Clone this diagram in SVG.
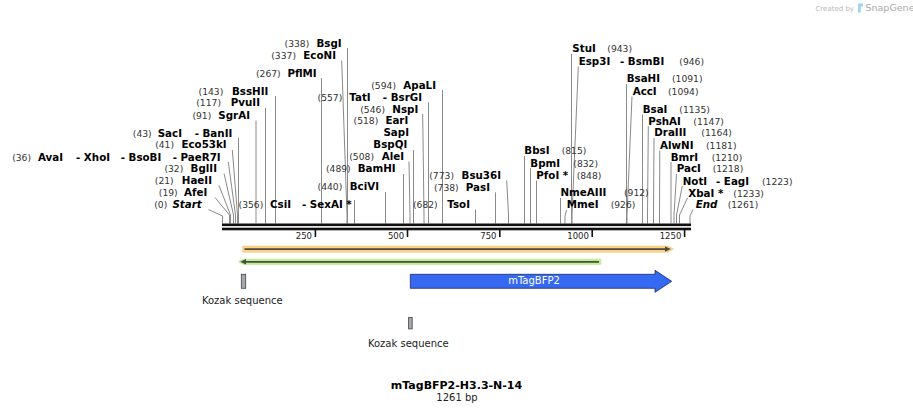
<svg xmlns="http://www.w3.org/2000/svg" width="913" height="413" viewBox="0 0 913 413">
<style>
.n{font-family:"DejaVu Sans",Verdana,sans-serif;font-size:10.3px;font-weight:bold;fill:#000}
.p{font-family:"DejaVu Sans",Verdana,sans-serif;font-size:9.2px;fill:#333}
.i{font-style:italic}
.e{text-anchor:end}
.m{text-anchor:middle}
.l{stroke:#8a8a8a;stroke-width:1;fill:none}
.t{stroke:#111;stroke-width:1.6}
.tk{font-family:"DejaVu Sans",Verdana,sans-serif;font-size:8.5px;fill:#222;text-anchor:end}
.f{font-family:"DejaVu Sans",Verdana,sans-serif;font-size:10px;fill:#222;text-anchor:middle}
</style>
<rect width="913" height="413" fill="#fff"/>

<g id="connectors">
<polyline class="l" points="208.5,209.5 222.5,216 222.5,223.5"/>
<polyline class="l" points="215,197.5 229.5,215 229.5,223.5"/>
<polyline class="l" points="219,185.5 230.5,215 230.5,223.5"/>
<polyline class="l" points="224,173.5 233.5,215 233.5,223.5"/>
<polyline class="l" points="228.3,162 235.5,215 235.5,223.5"/>
<polyline class="l" points="232.3,150 237.5,215 237.5,223.5"/>
<line class="l" x1="238.5" y1="138" x2="238.5" y2="223.5"/>
<line class="l" x1="256" y1="120.5" x2="256" y2="223.5"/>
<line class="l" x1="265.5" y1="108" x2="265.5" y2="223.5"/>
<line class="l" x1="275.5" y1="96" x2="275.5" y2="223.5"/>
<line class="l" x1="321.5" y1="78" x2="321.5" y2="223.5"/>
<polyline class="l" points="341.7,60.5 347,215 347,223.5"/>
<line class="l" x1="347.5" y1="48" x2="347.5" y2="223.5"/>
<line class="l" x1="354.5" y1="200" x2="354.5" y2="223.5"/>
<line class="l" x1="385.5" y1="192" x2="385.5" y2="223.5"/>
<line class="l" x1="403.5" y1="174" x2="403.5" y2="223.5"/>
<polyline class="l" points="409,161.7 410,215 410,223.5"/>
<line class="l" x1="413.5" y1="150" x2="413.5" y2="223.5"/>
<polyline class="l" points="422.7,114 424,215 424,223.5"/>
<line class="l" x1="428.5" y1="102.3" x2="428.5" y2="223.5"/>
<line class="l" x1="442.5" y1="90" x2="442.5" y2="223.5"/>
<line class="l" x1="475.5" y1="209.5" x2="475.5" y2="223.5"/>
<line class="l" x1="495.5" y1="192.3" x2="495.5" y2="223.5"/>
<polyline class="l" points="506.7,180.5 508.5,215 508.5,223.5"/>
<line class="l" x1="524.5" y1="156" x2="524.5" y2="223.5"/>
<line class="l" x1="530.5" y1="168.3" x2="530.5" y2="223.5"/>
<line class="l" x1="536.5" y1="180.5" x2="536.5" y2="223.5"/>
<line class="l" x1="560.5" y1="198" x2="560.5" y2="223.5"/>
<polyline class="l" points="566.5,210 565,216 565,223.5"/>
<line class="l" x1="571.5" y1="54" x2="571.5" y2="223.5"/>
<polyline class="l" points="578.3,66.5 572,215 572,223.5"/>
<line class="l" x1="626.5" y1="84" x2="626.5" y2="223.5"/>
<polyline class="l" points="632,96.5 627,215 627,223.5"/>
<line class="l" x1="642.5" y1="114.5" x2="642.5" y2="223.5"/>
<polyline class="l" points="648.3,126 647.5,215 647.5,223.5"/>
<polyline class="l" points="654,138 653.5,215 653.5,223.5"/>
<polyline class="l" points="659.8,150.5 659.5,215 659.5,223.5"/>
<line class="l" x1="671" y1="162" x2="671" y2="223.5"/>
<polyline class="l" points="676.5,174 674,215 674,223.5"/>
<polyline class="l" points="682.3,186 676.5,215 676.5,223.5"/>
<polyline class="l" points="687.5,198 679.5,215 679.5,223.5"/>
<polyline class="l" points="693,209.5 690,216 690,223.5"/>
</g>

<g id="ruler">
<rect x="222" y="223.5" width="469" height="2.6" fill="#111"/>
<rect x="222" y="227.7" width="469" height="2.6" fill="#111"/>
<line class="t" x1="315.4" y1="230" x2="315.4" y2="237"/>
<line class="t" x1="407.5" y1="230" x2="407.5" y2="237"/>
<line class="t" x1="499.8" y1="230" x2="499.8" y2="237"/>
<line class="t" x1="592.2" y1="230" x2="592.2" y2="237"/>
<line class="t" x1="684.6" y1="230" x2="684.6" y2="237"/>
<text class="tk" x="312" y="239">250</text>
<text class="tk" x="404.2" y="239">500</text>
<text class="tk" x="496.5" y="239">750</text>
<text class="tk" x="588.9" y="239">1000</text>
<text class="tk" x="681.3" y="239">1250</text>
</g>

<g id="start"><text class="p e" x="167.3" y="208">(0)</text><text class="n i e" x="201.7" y="208">Start</text></g>
<g id="afei"><text class="p e" x="177.7" y="196.3">(19)</text><text class="n e" x="207.3" y="196.3">AfeI</text></g>
<g id="haeii"><text class="p e" x="173.7" y="184">(21)</text><text class="n e" x="212" y="184">HaeII</text></g>
<g id="bglii"><text class="p e" x="183.3" y="172">(32)</text><text class="n e" x="217" y="172">BglII</text></g>
<g id="avai"><text class="p e" x="31" y="160.5">(36)</text><text class="n" x="38" y="160.5">AvaI</text><text class="n" x="76" y="160.5">- XhoI</text><text class="n" x="120.7" y="160.5">- BsoBI</text><text class="n e" x="220.7" y="160.5">- PaeR7I</text></g>
<g id="eco53ki"><text class="p e" x="174" y="148.3">(41)</text><text class="n e" x="226.7" y="148.3">Eco53kI</text></g>
<g id="saci"><text class="p e" x="151.7" y="136.5">(43)</text><text class="n" x="157.7" y="136.5">SacI</text><text class="n e" x="232.3" y="136.5">- BanII</text></g>
<g id="sgrai"><text class="p e" x="211.3" y="119">(91)</text><text class="n e" x="250" y="119">SgrAI</text></g>
<g id="pvuii"><text class="p e" x="221" y="106.3">(117)</text><text class="n e" x="260" y="106.3">PvuII</text></g>
<g id="bsshii"><text class="p e" x="223.3" y="94.5">(143)</text><text class="n e" x="268.3" y="94.5">BssHII</text></g>
<g id="pflmi"><text class="p e" x="280.7" y="76.7">(267)</text><text class="n e" x="316.7" y="76.7">PflMI</text></g>
<g id="econi"><text class="p e" x="296" y="59">(337)</text><text class="n e" x="336" y="59">EcoNI</text></g>
<g id="bsgi"><text class="p e" x="309.3" y="46.5">(338)</text><text class="n e" x="341.7" y="46.5">BsgI</text></g>
<g id="csii"><text class="p e" x="263.3" y="208">(356)</text><text class="n" x="270" y="208">CsiI</text><text class="n e" x="351.7" y="208">- SexAI *</text></g>
<g id="bcivi"><text class="p e" x="342.3" y="190">(440)</text><text class="n e" x="379" y="190">BciVI</text></g>
<g id="bamhi"><text class="p e" x="350.7" y="172">(489)</text><text class="n e" x="395.7" y="172">BamHI</text></g>
<g id="alei"><text class="p e" x="374" y="160">(508)</text><text class="n e" x="404" y="160">AleI</text></g>
<g id="eari"><text class="p e" x="378.3" y="124">(518)</text><text class="n e" x="408.3" y="124">EarI</text><text class="n e" x="409" y="136">SapI</text><text class="n e" x="407.3" y="148">BspQI</text></g>
<g id="nspi"><text class="p e" x="385" y="112.7">(546)</text><text class="n e" x="418.3" y="112.7">NspI</text></g>
<g id="tati"><text class="p e" x="342.3" y="100.7">(557)</text><text class="n" x="349.3" y="100.7">TatI</text><text class="n e" x="422" y="100.7">- BsrGI</text></g>
<g id="apali"><text class="p e" x="396" y="88.5">(594)</text><text class="n e" x="436" y="88.5">ApaLI</text></g>
<g id="tsoi"><text class="p e" x="437.7" y="208">(682)</text><text class="n e" x="470" y="208">TsoI</text></g>
<g id="pasi"><text class="p e" x="458.7" y="190.7">(738)</text><text class="n e" x="490" y="190.7">PasI</text></g>
<g id="bsu36i"><text class="p e" x="454" y="179">(773)</text><text class="n e" x="501" y="179">Bsu36I</text></g>

<g id="bbsi"><text class="n" x="524.3" y="154">BbsI</text><text class="p" x="561.7" y="154">(815)</text></g>
<g id="bpmi"><text class="n" x="530.3" y="166.7">BpmI</text><text class="p" x="573.3" y="166.7">(832)</text></g>
<g id="pfoi"><text class="n" x="536.3" y="179">PfoI *</text><text class="p" x="576.7" y="179">(848)</text></g>
<g id="nmeaiii"><text class="n" x="560.5" y="196.3">NmeAIII</text><text class="p" x="624" y="196.3">(912)</text></g>
<g id="mmei"><text class="n" x="566.7" y="208.3">MmeI</text><text class="p" x="610.7" y="208.3">(926)</text></g>
<g id="stui"><text class="n" x="572.3" y="52.3">StuI</text><text class="p" x="607.3" y="52.3">(943)</text></g>
<g id="esp3i"><text class="n" x="578.7" y="64.7">Esp3I</text><text class="n" x="620" y="64.7">- BsmBI</text><text class="p" x="679.3" y="64.7">(946)</text></g>
<g id="bsahi"><text class="n" x="626.7" y="82.3">BsaHI</text><text class="p" x="672" y="82.3">(1091)</text></g>
<g id="acci"><text class="n" x="632.7" y="94.7">AccI</text><text class="p" x="668" y="94.7">(1094)</text></g>
<g id="bsai"><text class="n" x="642.7" y="113">BsaI</text><text class="p" x="679.3" y="113">(1135)</text></g>
<g id="pshai"><text class="n" x="648.3" y="124.7">PshAI</text><text class="p" x="693.3" y="124.7">(1147)</text></g>
<g id="draiii"><text class="n" x="654.3" y="136.3">DraIII</text><text class="p" x="701.3" y="136.3">(1164)</text></g>
<g id="alwni"><text class="n" x="660" y="149">AlwNI</text><text class="p" x="706" y="149">(1181)</text></g>
<g id="bmri"><text class="n" x="670.7" y="160.7">BmrI</text><text class="p" x="711.7" y="160.7">(1210)</text></g>
<g id="paci"><text class="n" x="676.7" y="172.3">PacI</text><text class="p" x="712.7" y="172.3">(1218)</text></g>
<g id="noti"><text class="n" x="682.7" y="184.7">NotI</text><text class="n" x="716" y="184.7">- EagI</text><text class="p" x="762" y="184.7">(1223)</text></g>
<g id="xbai"><text class="n" x="688.3" y="196.7">XbaI *</text><text class="p" x="733.3" y="196.7">(1233)</text></g>
<g id="end"><text class="n i" x="695.7" y="208.3">End</text><text class="p" x="727.7" y="208.3">(1261)</text></g>

<g id="orange-feature">
<polygon points="242.7,246 668,246 673.3,249 668,252.2 242.7,252.2" fill="#fcd389" stroke="#f9c56e" stroke-width="0.6"/>
<line x1="244.5" y1="249.1" x2="666" y2="249.1" stroke="#4a4a4a" stroke-width="1.8"/>
<polygon points="665,246.4 670.8,249.1 665,251.8" fill="#4a4a4a"/>
</g>
<g id="green-feature">
<polygon points="238.3,261.8 243.5,259.2 600.7,259.2 600.7,264.4 243.5,264.4" fill="#c3ef8f" stroke="#ade777" stroke-width="0.6"/>
<line x1="244" y1="261.8" x2="599" y2="261.8" stroke="#4a4a4a" stroke-width="1.8"/>
<polygon points="246,259.1 240.3,261.8 246,264.5" fill="#4a4a4a"/>
</g>
<g id="kozak1">
<rect x="241.3" y="274.3" width="4.4" height="14" fill="#a3a7ae" stroke="#444" stroke-width="0.8"/>
<text class="f" x="242.3" y="304">Kozak sequence</text>
</g>
<g id="mtagbfp2">
<polygon points="410.3,274.3 655,274.3 655,270.3 671.7,281.3 655,292.3 655,288.3 410.3,288.3" fill="#3569f2" stroke="#1d2a66" stroke-width="0.8"/>
<text x="534" y="284.3" font-family="DejaVu Sans, Verdana, sans-serif" font-size="10" fill="#fff" text-anchor="middle">mTagBFP2</text>
</g>
<g id="kozak2">
<rect x="408.6" y="317.4" width="3.6" height="11.5" fill="#a3a7ae" stroke="#444" stroke-width="0.8"/>
<text class="f" x="408.3" y="346.5">Kozak sequence</text>
</g>
<g id="title">
<text x="456.5" y="388.5" font-family="DejaVu Sans, Verdana, sans-serif" font-size="11" font-weight="bold" fill="#000" text-anchor="middle">mTagBFP2-H3.3-N-14</text>
<text class="f" x="457" y="400.5">1261 bp</text>
</g>
<g id="credit">
<text x="854" y="10.5" font-family="DejaVu Sans, sans-serif" font-size="7" fill="#b9b9b9" text-anchor="end">Created by</text>
<path d="M858,3.5 h5 v3 h-2.2 v6 h-2.8 z" fill="#9ed3f2"/>
<text x="865.5" y="11" font-family="DejaVu Sans, sans-serif" font-size="9.5" fill="#a9a9a9">SnapGene</text>
</g>
</svg>
